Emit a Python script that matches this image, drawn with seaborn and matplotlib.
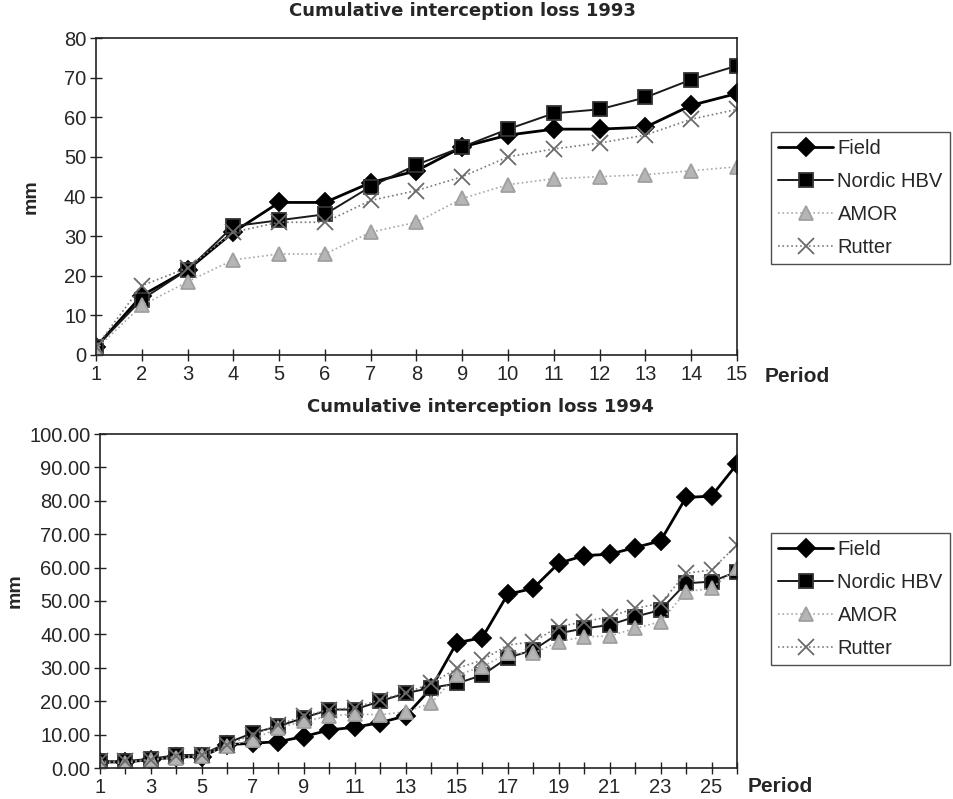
import numpy as np
import pandas as pd
import matplotlib
matplotlib.use("Agg")
import matplotlib.pyplot as plt
import seaborn as sns

sns.set_theme(style="white")
plt.rcParams['font.family'] = ['Liberation Sans', 'DejaVu Sans']

# 1993 data (periods 1..15)
periods_93 = list(range(1, 16))
field_93 = [2, 15, 21.5, 31, 38.5, 38.5, 43.5, 46.5, 52.5, 55.5, 57, 57, 57.5, 63, 66]
nordic_93 = [2, 14, 21.5, 32.5, 34, 35.5, 42.5, 48, 52.5, 57, 61, 62, 65, 69.5, 73]
amor_93 = [1.5, 12.5, 18.5, 24, 25.5, 25.5, 31, 33.5, 39.5, 43, 44.5, 45, 45.5, 46.5, 47.5]
rutter_93 = [2, 17.5, 22, 31, 33.5, 33.5, 39, 41.5, 45, 50, 52, 53.5, 55.5, 59.5, 62]

# 1994 data (periods 1..26)
periods_94 = list(range(1, 27))
field_94 = [1.8, 1.8, 2.5, 3.3, 3.4, 7.0, 7.4, 7.9, 9.4, 11.4, 12.2, 13.6, 15.6, 23.9,
            37.5, 39, 52, 53.8, 61.3, 63.6, 64, 66, 68, 81, 81.4, 91]
nordic_94 = [2, 2, 2.8, 3.8, 4, 7.5, 10.5, 12.5, 15, 17.5, 17.5, 20, 22.4, 24,
             25.3, 27.8, 33, 35.3, 40.3, 41.8, 42.8, 45.3, 47.3, 55.3, 55.8, 58.8]
amor_94 = [1.5, 1.5, 2.5, 3, 3.5, 6.5, 8.5, 12, 14, 15.5, 16.2, 15.9, 16.9, 19.4,
           27.8, 30.3, 34.3, 34.3, 37.8, 39.3, 39.5, 41.8, 43.8, 52.8, 53.8, 59.8]
rutter_94 = [2, 2, 2.5, 3.5, 4, 7, 10, 13, 15.5, 17.5, 18, 20.5, 22.5, 25.3,
             29.8, 32.3, 36.8, 37.8, 42.3, 43.8, 45.3, 47.8, 49.3, 58.3, 59.3, 66.8]

series_names = ["Field", "Nordic HBV", "AMOR", "Rutter"]
styles = {
    "Field": dict(color="black", lw=2.0, ls="-", marker="D", ms=9, mfc="black", mec="black"),
    "Nordic HBV": dict(color="#1a1a1a", lw=1.4, ls="-", marker="s", ms=10, mfc="black", mec="#333333"),
    "AMOR": dict(color="#a8a8a8", lw=1.2, ls=":", marker="^", ms=10, mfc="#b5b5b5", mec="#a0a0a0"),
    "Rutter": dict(color="#7a7a7a", lw=1.2, ls=":", marker="x", ms=12, mfc="none", mec="#6a6a6a"),
}

fig = plt.figure(figsize=(9.54, 7.99), dpi=100)
ax1 = fig.add_axes([96/954, 1-355/799, 641/954, 317/799])
ax2 = fig.add_axes([100/954, 1-768/799, 637/954, 334/799])


def draw(ax, periods, values_list):
    for name, vals in zip(series_names, values_list):
        df = pd.DataFrame({"Period": periods, "mm": vals})
        s = styles[name]
        sns.lineplot(data=df, x="Period", y="mm", ax=ax, color=s["color"], linewidth=s["lw"],
                     linestyle=s["ls"], marker=s["marker"], markersize=s["ms"],
                     markerfacecolor=s["mfc"], markeredgecolor=s["mec"], markeredgewidth=1.3,
                     label=name)
    for sp in ax.spines.values():
        sp.set_color("#222222")
        sp.set_linewidth(1.2)
    ax.tick_params(axis="both", direction="inout", length=8, width=1.0, color="#222222",
                   labelsize=14.5, pad=3, bottom=True, left=True)
    ax.set_xlabel("")
    ax.set_ylabel("mm", fontsize=14, fontweight="bold")


draw(ax1, periods_93, [field_93, nordic_93, amor_93, rutter_93])
ax1.set_xlim(1, 15)
ax1.set_ylim(0, 80)
ax1.set_xticks(periods_93)
ax1.set_yticks(range(0, 81, 10))
ax1.yaxis.set_label_coords(-0.088, 0.5)

draw(ax2, periods_94, [field_94, nordic_94, amor_94, rutter_94])
ax2.set_xlim(1, 26)
ax2.set_ylim(0, 100)
ax2.set_xticks(periods_94)
ax2.set_xticklabels([str(p) if p % 2 == 1 else "" for p in periods_94])
ax2.set_yticks(range(0, 101, 10))
ax2.set_yticklabels([f"{v:.2f}" for v in range(0, 101, 10)])
ax2.yaxis.set_label_coords(-0.12, 0.53)

title_font = dict(fontsize=13, fontweight="bold", family=["DejaVu Sans"])
fig.text(462/954, 1-11/799, "Cumulative interception loss 1993", ha="center", va="center", **title_font)
fig.text(480/954, 1-407/799, "Cumulative interception loss 1994", ha="center", va="center", **title_font)
fig.text(765/954, 1-376/799, "Period", ha="left", va="center", fontsize=15, fontweight="bold")
fig.text(748/954, 1-787/799, "Period", ha="left", va="center", fontsize=15, fontweight="bold")

for ax, top in [(ax1, 132), (ax2, 533)]:
    leg = ax.legend(loc="upper left", bbox_to_anchor=(771/954, 1-top/799),
                    bbox_transform=fig.transFigure, fontsize=14.5, frameon=True,
                    fancybox=False, handlelength=2.75, handletextpad=0.2,
                    borderpad=0.35, labelspacing=0.7, borderaxespad=0)
    leg.get_frame().set_edgecolor("#222222")
    leg.get_frame().set_linewidth(1.0)

fig.savefig("out.png", dpi=100)
